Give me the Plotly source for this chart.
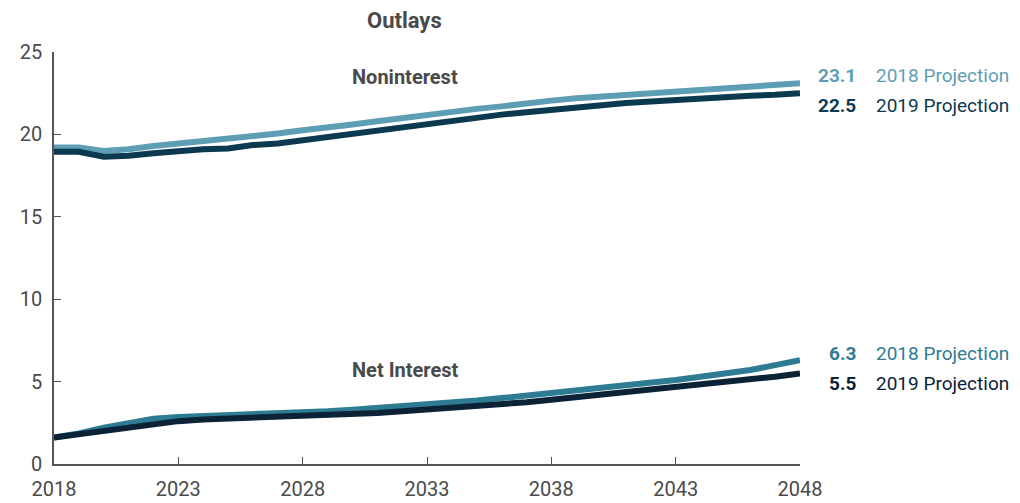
import plotly.graph_objects as go

years = list(range(2018, 2049))

nonint_2018 = [19.2, 19.2, 19.0, 19.1, 19.3, 19.45, 19.6, 19.7, 19.9, 20.05, 20.25,
               20.4, 20.6, 20.8, 21.0, 21.2, 21.4, 21.55, 21.7, 21.9, 22.05,
               22.2, 22.3, 22.45, 22.55, 22.65, 22.75, 22.85, 22.95, 23.0, 23.1]
nonint_2019 = [18.95, 18.95, 18.65, 18.7, 18.85, 19.0, 19.1, 19.15, 19.35, 19.45, 19.65,
               19.8, 20.05, 20.25, 20.45, 20.65, 20.85, 21.05, 21.2, 21.35, 21.5,
               21.65, 21.8, 21.9, 22.0, 22.1, 22.2, 22.25, 22.35, 22.4, 22.5]
netint_2018 = [1.6, 1.85, 2.2, 2.5, 2.75, 2.85, 2.9, 2.95, 3.0, 3.05, 3.1,
               3.2, 3.3, 3.4, 3.5, 3.6, 3.7, 3.85, 4.0, 4.15, 4.3,
               4.45, 4.6, 4.75, 4.95, 5.1, 5.3, 5.5, 5.7, 6.0, 6.3]
netint_2019 = [1.6, 1.8, 2.05, 2.25, 2.45, 2.6, 2.7, 2.75, 2.8, 2.85, 2.9,
               2.95, 3.0, 3.1, 3.2, 3.3, 3.4, 3.5, 3.6, 3.75, 3.9,
               4.05, 4.2, 4.35, 4.5, 4.65, 4.8, 4.95, 5.1, 5.3, 5.5]

x_ticks = [2018, 2023, 2028, 2033, 2038, 2043, 2048]
y_ticks = [0, 5, 10, 15, 20, 25]

# name, values, colour, end label, vertical nudge of the end label (px)
SERIES = [
    ("Noninterest, 2018 Projection", nonint_2018, "#5E9EB5", "2018 Projection", 8),
    ("Noninterest, 2019 Projection", nonint_2019, "#0B3A50", "2019 Projection", -12),
    ("Net Interest, 2018 Projection", netint_2018, "#2E7C93", "2018 Projection", 7),
    ("Net Interest, 2019 Projection", netint_2019, "#0C2236", "2019 Projection", -10),
]

FONT = "Roboto, Lato, sans-serif"
GRAY = "#4a4a4a"

fig = go.Figure()
for name, vals, color, _, _ in SERIES:
    fig.add_trace(go.Scatter(
        x=years, y=vals, mode="lines", name=name,
        line=dict(color=color, width=6),
        hoverinfo="x+y+name",
    ))

annotations = []
for name, vals, color, label, yshift in SERIES:
    annotations.append(dict(
        x=1.0, xref="paper", y=vals[-1], yref="y", yshift=yshift,
        text=f"<b>{vals[-1]:.1f}</b>", showarrow=False,
        xanchor="right", xshift=58, font=dict(color=color, size=19, family=FONT),
    ))
    annotations.append(dict(
        x=1.0, xref="paper", y=vals[-1], yref="y", yshift=yshift,
        text=label, showarrow=False,
        xanchor="left", xshift=74, font=dict(color=color, size=19, family=FONT),
    ))

annotations += [
    dict(x=2032.1, y=23.5, text="<b>Noninterest</b>", showarrow=False,
         font=dict(color=GRAY, size=20, family=FONT)),
    dict(x=2032.1, y=5.7, text="<b>Net Interest</b>", showarrow=False,
         font=dict(color=GRAY, size=20, family=FONT)),
    dict(x=2032.1, y=1.0, xref="x", yref="paper", yanchor="middle", yshift=32,
         text="<b>Outlays</b>", showarrow=False,
         font=dict(color=GRAY, size=22, family=FONT)),
]

fig.update_layout(
    width=1012, height=495,
    plot_bgcolor="white", paper_bgcolor="white",
    font=dict(family=FONT, size=20, color=GRAY),
    margin=dict(l=46, r=220, t=44, b=39),
    showlegend=False,
    annotations=annotations,
    xaxis=dict(
        range=[2018, 2048], tickvals=x_ticks, ticks="inside", ticklen=7,
        tickcolor="#555", showline=True, linecolor="#555", linewidth=1.5,
        showgrid=False, zeroline=False, tickfont=dict(size=20, color=GRAY),
        ticklabelstandoff=6, automargin=False,
    ),
    yaxis=dict(
        range=[0, 25], tickvals=y_ticks, ticks="inside", ticklen=7,
        tickcolor="#555", showline=True, linecolor="#555", linewidth=1.5,
        showgrid=False, zeroline=False, tickfont=dict(size=20, color=GRAY),
        ticklabelstandoff=6, automargin=False,
    ),
)

fig.write_html("out.html")
